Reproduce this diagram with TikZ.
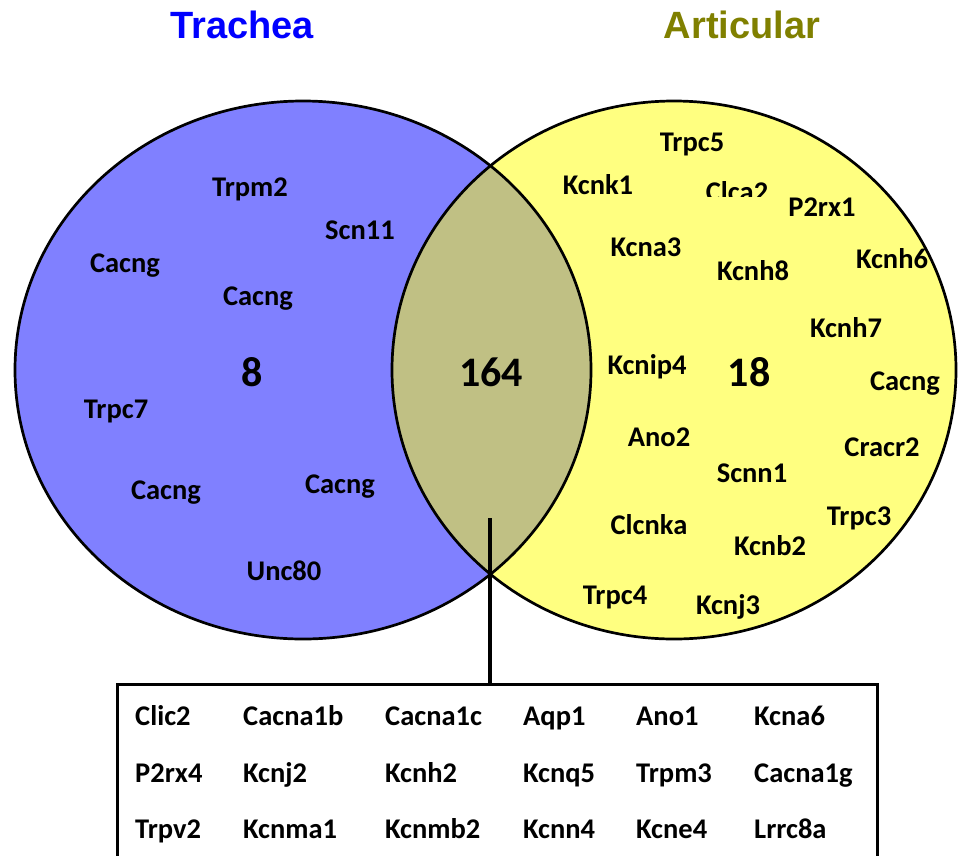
\documentclass[tikz,border=0pt]{standalone}
\usepackage{fontspec}
\setmainfont{Carlito}
\newfontfamily\titlefont{Liberation Sans}
\definecolor{trachfill}{RGB}{128,128,255}
\definecolor{artfill}{RGB}{255,255,128}
\definecolor{lensfill}{RGB}{192,192,132}
\definecolor{trachblue}{RGB}{0,0,255}
\definecolor{artolive}{RGB}{128,128,0}
\tikzset{
  gene/.style={font=\fontsize{28.5}{31}\selectfont\bfseries, inner sep=0pt, anchor=base},
  boxgene/.style={font=\fontsize{28.5}{31}\selectfont\bfseries, inner sep=0pt, anchor=base west},
  count/.style={font=\fontsize{42}{46}\selectfont\bfseries, inner sep=0pt, anchor=base},
  title/.style={font=\titlefont\fontsize{38}{42}\selectfont\bfseries, inner sep=0pt, anchor=base},
  outline/.style={line width=2.7pt, draw=black}
}
\begin{document}
\begin{tikzpicture}[x=1pt,y=-1pt]
\useasboundingbox (0,0) rectangle (958,855);
\clip (0,0) rectangle (958,855);
% ellipses
\fill[trachfill] (303,370) ellipse [x radius=288, y radius=269];
\fill[artfill] (674,370) ellipse [x radius=282, y radius=269];
\begin{scope}
  \clip (303,370) ellipse [x radius=288, y radius=269];
  \fill[lensfill] (674,370) ellipse [x radius=282, y radius=269];
\end{scope}
\draw[outline] (303,370) ellipse [x radius=288, y radius=269];
\draw[outline] (674,370) ellipse [x radius=282, y radius=269];
% titles
\node[title, text=trachblue] (tTrachea) at (242,38) {Trachea};
\node[title, text=artolive] (tArticular) at (742,38) {Articular};
% counts
\node[count] (n8) at (252,386) {8};
\node[count] (n164) at (491,386) {164};
\node[count] (n18) at (749,386) {18};
% left genes
\node[gene] (l1) at (250,196) {Trpm2};
\node[gene] (l2) at (360,239) {Scn11};
\node[gene] (l3) at (125,272) {Cacng};
\node[gene] (l4) at (258,305) {Cacng};
\node[gene] (l5) at (116,418) {Trpc7};
\node[gene] (l6) at (166,499) {Cacng};
\node[gene] (l7) at (340,493) {Cacng};
\node[gene] (l8) at (284,580) {Unc80};
% right genes
\node[gene] (r1) at (692,151) {Trpc5};
\node[gene] (r2) at (598,194) {Kcnk1};
\begin{scope}
  \clip (690,170) rectangle (790,196);
  \node[gene] (r3) at (737,201) {Clca2};
\end{scope}
\node[gene] (r4) at (822,216) {P2rx1};
\node[gene] (r5) at (646,256) {Kcna3};
\node[gene] (r6) at (753,280) {Kcnh8};
\node[gene] (r7) at (892,268) {Kcnh6};
\node[gene] (r8) at (846,337) {Kcnh7};
\node[gene] (r9) at (647,374) {Kcnip4};
\node[gene] (r10) at (905,390) {Cacng};
\node[gene] (r11) at (659,446) {Ano2};
\node[gene] (r12) at (882,456) {Cracr2};
\node[gene] (r13) at (752,482) {Scnn1};
\node[gene] (r14) at (859,525) {Trpc3};
\node[gene] (r15) at (649,534) {Clcnka};
\node[gene] (r16) at (770,555) {Kcnb2};
\node[gene] (r17) at (615,604) {Trpc4};
\node[gene] (r18) at (728,614) {Kcnj3};
% box
\node[draw, line width=3pt, minimum width=760pt, minimum height=200pt, anchor=north west, inner sep=0pt] (box) at (116,683) {};
\coordinate (lensTip) at (490,518);
\draw[line width=3.2pt] (lensTip) -- (lensTip |- box.north);
% box genes
\node[boxgene] (b11) at (135,725) {Clic2};
\node[boxgene] (b12) at (243,725) {Cacna1b};
\node[boxgene] (b13) at (385,725) {Cacna1c};
\node[boxgene] (b14) at (523,725) {Aqp1};
\node[boxgene] (b15) at (636,725) {Ano1};
\node[boxgene] (b16) at (754,725) {Kcna6};
\node[boxgene] (b21) at (135,782) {P2rx4};
\node[boxgene] (b22) at (243,782) {Kcnj2};
\node[boxgene] (b23) at (385,782) {Kcnh2};
\node[boxgene] (b24) at (523,782) {Kcnq5};
\node[boxgene] (b25) at (636,782) {Trpm3};
\node[boxgene] (b26) at (754,782) {Cacna1g};
\node[boxgene] (b31) at (135,838) {Trpv2};
\node[boxgene] (b32) at (243,838) {Kcnma1};
\node[boxgene] (b33) at (385,838) {Kcnmb2};
\node[boxgene] (b34) at (523,838) {Kcnn4};
\node[boxgene] (b35) at (636,838) {Kcne4};
\node[boxgene] (b36) at (754,838) {Lrrc8a};
\end{tikzpicture}
\end{document}
